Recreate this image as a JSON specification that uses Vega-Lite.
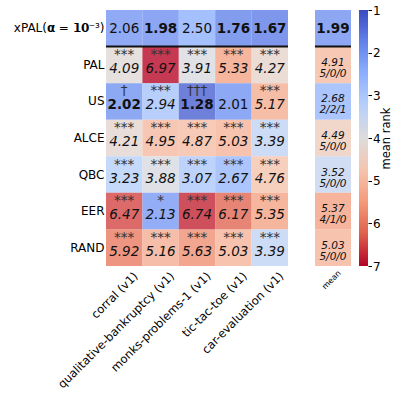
{
  "$schema": "https://vega.github.io/schema/vega-lite/v6.json",
  "padding": {"left": 13, "top": 4, "right": 0, "bottom": 0},
  "config": {
    "view": {"stroke": null},
    "font": "DejaVu Sans",
    "axis": {"labelColor": "#000", "labelFont": "DejaVu Sans", "titleColor": "#000", "titleFont": "DejaVu Sans"}
  },
  "datasets": {
    "cells": [
      {"strategy": "xPAL(𝝰 = 𝟭𝟬⁻³)", "dataset": "corral (v1)", "rank": 2.06, "marker": "", "best": false},
      {"strategy": "xPAL(𝝰 = 𝟭𝟬⁻³)", "dataset": "qualitative-bankruptcy (v1)", "rank": 1.98, "marker": "", "best": true},
      {"strategy": "xPAL(𝝰 = 𝟭𝟬⁻³)", "dataset": "monks-problems-1 (v1)", "rank": 2.50, "marker": "", "best": false},
      {"strategy": "xPAL(𝝰 = 𝟭𝟬⁻³)", "dataset": "tic-tac-toe (v1)", "rank": 1.76, "marker": "", "best": true},
      {"strategy": "xPAL(𝝰 = 𝟭𝟬⁻³)", "dataset": "car-evaluation (v1)", "rank": 1.67, "marker": "", "best": true},
      {"strategy": "PAL", "dataset": "corral (v1)", "rank": 4.09, "marker": "***", "best": false},
      {"strategy": "PAL", "dataset": "qualitative-bankruptcy (v1)", "rank": 6.97, "marker": "***", "best": false},
      {"strategy": "PAL", "dataset": "monks-problems-1 (v1)", "rank": 3.91, "marker": "***", "best": false},
      {"strategy": "PAL", "dataset": "tic-tac-toe (v1)", "rank": 5.33, "marker": "***", "best": false},
      {"strategy": "PAL", "dataset": "car-evaluation (v1)", "rank": 4.27, "marker": "***", "best": false},
      {"strategy": "US", "dataset": "corral (v1)", "rank": 2.02, "marker": "†", "best": true},
      {"strategy": "US", "dataset": "qualitative-bankruptcy (v1)", "rank": 2.94, "marker": "***", "best": false},
      {"strategy": "US", "dataset": "monks-problems-1 (v1)", "rank": 1.28, "marker": "†††", "best": true},
      {"strategy": "US", "dataset": "tic-tac-toe (v1)", "rank": 2.01, "marker": "", "best": false},
      {"strategy": "US", "dataset": "car-evaluation (v1)", "rank": 5.17, "marker": "***", "best": false},
      {"strategy": "ALCE", "dataset": "corral (v1)", "rank": 4.21, "marker": "***", "best": false},
      {"strategy": "ALCE", "dataset": "qualitative-bankruptcy (v1)", "rank": 4.95, "marker": "***", "best": false},
      {"strategy": "ALCE", "dataset": "monks-problems-1 (v1)", "rank": 4.87, "marker": "***", "best": false},
      {"strategy": "ALCE", "dataset": "tic-tac-toe (v1)", "rank": 5.03, "marker": "***", "best": false},
      {"strategy": "ALCE", "dataset": "car-evaluation (v1)", "rank": 3.39, "marker": "***", "best": false},
      {"strategy": "QBC", "dataset": "corral (v1)", "rank": 3.23, "marker": "***", "best": false},
      {"strategy": "QBC", "dataset": "qualitative-bankruptcy (v1)", "rank": 3.88, "marker": "***", "best": false},
      {"strategy": "QBC", "dataset": "monks-problems-1 (v1)", "rank": 3.07, "marker": "***", "best": false},
      {"strategy": "QBC", "dataset": "tic-tac-toe (v1)", "rank": 2.67, "marker": "***", "best": false},
      {"strategy": "QBC", "dataset": "car-evaluation (v1)", "rank": 4.76, "marker": "***", "best": false},
      {"strategy": "EER", "dataset": "corral (v1)", "rank": 6.47, "marker": "***", "best": false},
      {"strategy": "EER", "dataset": "qualitative-bankruptcy (v1)", "rank": 2.13, "marker": "*", "best": false},
      {"strategy": "EER", "dataset": "monks-problems-1 (v1)", "rank": 6.74, "marker": "***", "best": false},
      {"strategy": "EER", "dataset": "tic-tac-toe (v1)", "rank": 6.17, "marker": "***", "best": false},
      {"strategy": "EER", "dataset": "car-evaluation (v1)", "rank": 5.35, "marker": "***", "best": false},
      {"strategy": "RAND", "dataset": "corral (v1)", "rank": 5.92, "marker": "***", "best": false},
      {"strategy": "RAND", "dataset": "qualitative-bankruptcy (v1)", "rank": 5.16, "marker": "***", "best": false},
      {"strategy": "RAND", "dataset": "monks-problems-1 (v1)", "rank": 5.63, "marker": "***", "best": false},
      {"strategy": "RAND", "dataset": "tic-tac-toe (v1)", "rank": 5.03, "marker": "***", "best": false},
      {"strategy": "RAND", "dataset": "car-evaluation (v1)", "rank": 3.39, "marker": "***", "best": false}
    ],
    "means": [
      {"strategy": "xPAL(𝝰 = 𝟭𝟬⁻³)", "col": "mean", "rank": 1.99, "wtl": ""},
      {"strategy": "PAL", "col": "mean", "rank": 4.91, "wtl": "5/0/0"},
      {"strategy": "US", "col": "mean", "rank": 2.68, "wtl": "2/2/1"},
      {"strategy": "ALCE", "col": "mean", "rank": 4.49, "wtl": "5/0/0"},
      {"strategy": "QBC", "col": "mean", "rank": 3.52, "wtl": "5/0/0"},
      {"strategy": "EER", "col": "mean", "rank": 5.37, "wtl": "4/1/0"},
      {"strategy": "RAND", "col": "mean", "rank": 5.03, "wtl": "5/0/0"}
    ],
    "colorbar": [
      {"lo": 1, "hi": 7}
    ]
  },
  "spacing": 25,
  "hconcat": [
    {
      "width": 182,
      "height": 256,
      "data": {"name": "cells"},
      "encoding": {
        "y": {"field": "strategy", "type": "nominal", "sort": ["xPAL(𝝰 = 𝟭𝟬⁻³)", "PAL", "US", "ALCE", "QBC", "EER", "RAND"], "scale": {"paddingInner": 0, "paddingOuter": 0}, "axis": {"title": null, "ticks": false, "domain": false, "labelFontSize": 12, "labelPadding": 2, "labelLimit": 200}}
      },
      "layer": [
        {
          "mark": {"type": "rect", "opacity": 0.8},
          "encoding": {
            "x": {"field": "dataset", "type": "nominal", "sort": ["corral (v1)", "qualitative-bankruptcy (v1)", "monks-problems-1 (v1)", "tic-tac-toe (v1)", "car-evaluation (v1)"], "scale": {"paddingInner": 0, "paddingOuter": 0}, "axis": {"title": null, "labelAngle": -45, "labelAlign": "right", "labelBaseline": "top", "ticks": false, "domain": false, "labelFontSize": 11.6, "labelPadding": 4, "labelOffset": 8, "labelLimit": 300}},
            "color": {"field": "rank", "type": "quantitative", "scale": {"domain": [1, 1.75, 2.5, 3.25, 4, 4.75, 5.5, 6.25, 7], "range": ["#3b4cc0", "#6282ea", "#8db0fe", "#b8d0f9", "#dddcdc", "#f5c4ad", "#f49a7b", "#de604d", "#b40426"], "interpolate": "rgb"}, "legend": null}
          }
        },
        {
          "transform": [{"filter": "indexof(datum.strategy, 'xPAL') === 0 && !datum.best"}],
          "mark": {"type": "text", "fontSize": 13.5, "baseline": "middle", "dy": 1, "color": "#111"},
          "encoding": {"x": {"field": "dataset", "type": "nominal", "sort": ["corral (v1)", "qualitative-bankruptcy (v1)", "monks-problems-1 (v1)", "tic-tac-toe (v1)", "car-evaluation (v1)"]}, "text": {"field": "rank", "format": ".2f"}}
        },
        {
          "transform": [{"filter": "indexof(datum.strategy, 'xPAL') === 0 && datum.best"}],
          "mark": {"type": "text", "fontSize": 13.5, "fontWeight": "bold", "baseline": "middle", "dy": 1, "color": "#111"},
          "encoding": {"x": {"field": "dataset", "type": "nominal", "sort": ["corral (v1)", "qualitative-bankruptcy (v1)", "monks-problems-1 (v1)", "tic-tac-toe (v1)", "car-evaluation (v1)"]}, "text": {"field": "rank", "format": ".2f"}}
        },
        {
          "transform": [{"filter": "indexof(datum.strategy, 'xPAL') !== 0 && indexof(datum.marker, '*') >= 0"}],
          "mark": {"type": "text", "fontSize": 13.5, "fontStyle": "italic", "baseline": "middle", "dy": 4, "color": "#111"},
          "encoding": {"x": {"field": "dataset", "type": "nominal", "sort": ["corral (v1)", "qualitative-bankruptcy (v1)", "monks-problems-1 (v1)", "tic-tac-toe (v1)", "car-evaluation (v1)"]}, "text": {"field": "rank", "format": ".2f"}}
        },
        {
          "transform": [{"filter": "indexof(datum.strategy, 'xPAL') !== 0 && indexof(datum.marker, '*') < 0 && datum.best"}],
          "mark": {"type": "text", "fontSize": 13.5, "fontWeight": "bold", "baseline": "middle", "dy": 4, "color": "#111"},
          "encoding": {"x": {"field": "dataset", "type": "nominal", "sort": ["corral (v1)", "qualitative-bankruptcy (v1)", "monks-problems-1 (v1)", "tic-tac-toe (v1)", "car-evaluation (v1)"]}, "text": {"field": "rank", "format": ".2f"}}
        },
        {
          "transform": [{"filter": "indexof(datum.strategy, 'xPAL') !== 0 && indexof(datum.marker, '*') < 0 && !datum.best"}],
          "mark": {"type": "text", "fontSize": 13.5, "baseline": "middle", "dy": 4, "color": "#111"},
          "encoding": {"x": {"field": "dataset", "type": "nominal", "sort": ["corral (v1)", "qualitative-bankruptcy (v1)", "monks-problems-1 (v1)", "tic-tac-toe (v1)", "car-evaluation (v1)"]}, "text": {"field": "rank", "format": ".2f"}}
        },
        {
          "transform": [{"filter": "datum.marker !== ''"}],
          "mark": {"type": "text", "fontSize": 13.5, "baseline": "middle", "dy": -10, "color": "#333"},
          "encoding": {"x": {"field": "dataset", "type": "nominal", "sort": ["corral (v1)", "qualitative-bankruptcy (v1)", "monks-problems-1 (v1)", "tic-tac-toe (v1)", "car-evaluation (v1)"]}, "text": {"field": "marker"}}
        },
        {
          "transform": [{"filter": "datum.strategy === 'PAL' && datum.dataset === 'corral (v1)'"}],
          "mark": {"type": "rule", "strokeWidth": 2, "color": "#111"},
          "encoding": {"y": {"field": "strategy", "type": "nominal", "bandPosition": 0}}
        }
      ]
    },
    {
      "spacing": 7,
      "hconcat": [
        {
          "width": 36,
          "height": 256,
          "data": {"name": "means"},
          "encoding": {
            "y": {"field": "strategy", "type": "nominal", "sort": ["xPAL(𝝰 = 𝟭𝟬⁻³)", "PAL", "US", "ALCE", "QBC", "EER", "RAND"], "scale": {"paddingInner": 0, "paddingOuter": 0}, "axis": null}
          },
          "layer": [
            {
              "mark": {"type": "rect", "opacity": 0.8},
              "encoding": {
                "x": {"field": "col", "type": "nominal", "scale": {"paddingInner": 0, "paddingOuter": 0}, "axis": {"title": null, "labelAngle": -45, "labelAlign": "right", "labelBaseline": "top", "ticks": false, "domain": false, "labelFontSize": 8, "labelPadding": 3, "labelOffset": 4}},
                "color": {"field": "rank", "type": "quantitative", "scale": {"domain": [1, 1.75, 2.5, 3.25, 4, 4.75, 5.5, 6.25, 7], "range": ["#3b4cc0", "#6282ea", "#8db0fe", "#b8d0f9", "#dddcdc", "#f5c4ad", "#f49a7b", "#de604d", "#b40426"], "interpolate": "rgb"}, "legend": null}
              }
            },
            {
              "transform": [{"filter": "datum.wtl === ''"}],
              "mark": {"type": "text", "fontSize": 13.5, "fontWeight": "bold", "baseline": "middle", "dy": 1, "color": "#111"},
              "encoding": {"x": {"field": "col", "type": "nominal"}, "text": {"field": "rank", "format": ".2f"}}
            },
            {
              "transform": [{"filter": "datum.wtl !== ''"}],
              "mark": {"type": "text", "fontSize": 10.5, "fontStyle": "italic", "baseline": "middle", "dy": -2, "color": "#111"},
              "encoding": {"x": {"field": "col", "type": "nominal"}, "text": {"field": "rank", "format": ".2f"}}
            },
            {
              "transform": [{"filter": "datum.wtl !== ''"}],
              "mark": {"type": "text", "fontSize": 10.5, "fontStyle": "italic", "baseline": "middle", "dy": 9, "color": "#111"},
              "encoding": {"x": {"field": "col", "type": "nominal"}, "text": {"field": "wtl"}}
            },
            {
              "transform": [{"filter": "datum.strategy === 'PAL'"}],
              "mark": {"type": "rule", "strokeWidth": 2, "color": "#111"},
              "encoding": {"y": {"field": "strategy", "type": "nominal", "bandPosition": 0}}
            }
          ]
        },
        {
          "width": 9,
          "height": 256,
          "data": {"name": "colorbar"},
          "mark": {"type": "rect", "color": {"gradient": "linear", "x1": 0, "y1": 0, "x2": 0, "y2": 1, "stops": [
            {"offset": 0, "color": "#3b4cc0"},
            {"offset": 0.125, "color": "#6282ea"},
            {"offset": 0.25, "color": "#8db0fe"},
            {"offset": 0.375, "color": "#b8d0f9"},
            {"offset": 0.5, "color": "#dddcdc"},
            {"offset": 0.625, "color": "#f5c4ad"},
            {"offset": 0.75, "color": "#f49a7b"},
            {"offset": 0.875, "color": "#de604d"},
            {"offset": 1, "color": "#b40426"}
          ]}},
          "encoding": {
            "y": {"field": "lo", "type": "quantitative", "scale": {"domain": [1, 7], "reverse": true, "nice": false, "zero": false}, "axis": {"orient": "right", "values": [1, 2, 3, 4, 5, 6, 7], "title": "mean rank", "titleAngle": 270, "titleBaseline": "top", "titleFontSize": 11.5, "titleFontWeight": "normal", "titlePadding": 0, "labelFontSize": 12, "labelPadding": 1, "tickSize": 3.5, "tickColor": "#000", "domain": false, "grid": false, "labelFlush": false}},
            "y2": {"field": "hi"}
          }
        }
      ]
    }
  ]
}
